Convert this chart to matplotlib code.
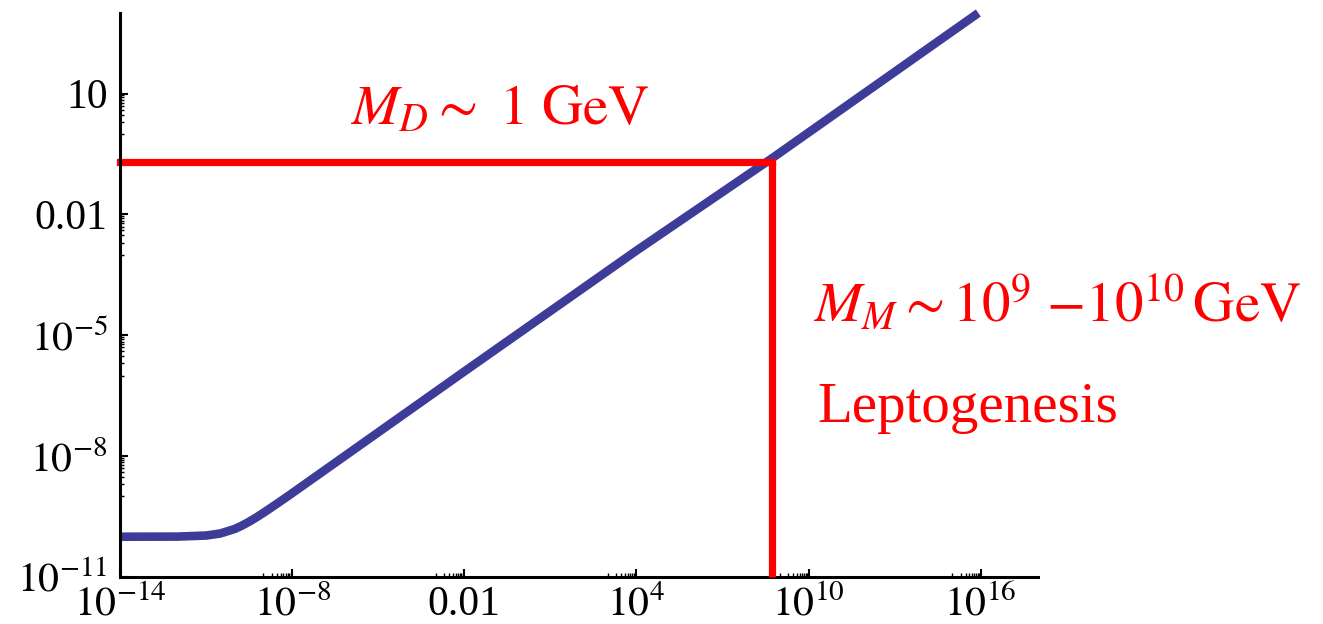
import numpy as np
import matplotlib
matplotlib.use("Agg")
import matplotlib.pyplot as plt
from matplotlib.ticker import FixedLocator, FixedFormatter, NullFormatter

plt.rcParams["font.family"] = ["Liberation Serif", "DejaVu Serif"]
plt.rcParams["mathtext.fontset"] = "stix"

# Curve samples (log10 x, log10 y): flat floor, a smooth knee, then slope 1/2
curve_logx = [-14.0, -12.0, -11.0, -10.5, -10.0, -9.75, -9.5, -9.25, -9.0,
              -8.75, -8.5, -8.25, -8.0, -2.0, 4.0, 8.74, 15.92]
curve_logy = [-10.0, -9.997, -9.971, -9.919, -9.807, -9.725, -9.628, -9.521, -9.407,
              -9.288, -9.167, -9.044, -8.92, -5.9, -2.9, -0.6, 3.0]

# Marker lines meeting on the curve
corner_x = 5.5e8
corner_y = 0.2

x_major = [1e-14, 1e-8, 1e-2, 1e4, 1e10, 1e16]
x_labels = [r"$10^{-14}$", r"$10^{-8}$", "0.01", r"$10^{4}$", r"$10^{10}$", r"$10^{16}$"]
y_major = [1e-11, 1e-8, 1e-5, 1e-2, 1e1]
y_labels = [r"$10^{-11}$", r"$10^{-8}$", r"$10^{-5}$", "0.01", "10"]

label_md = r"$M_D \sim\ 1\ \mathrm{GeV}$"
label_mm = r"$M_M \sim 10^9\ {-}10^{10}\,\mathrm{GeV}$"
label_lepto = "Leptogenesis"

W, H = 1323, 624
fig = plt.figure(figsize=(W / 100, H / 100), dpi=100)
ax = fig.add_axes([120 / W, 1 - 577 / H, 918 / W, 564 / H])
ax.set_xscale("log")
ax.set_yscale("log")
ax.set_xlim(1e-14, 1e18)
ax.set_ylim(1e-11, 1e3)

ax.plot(10 ** np.array(curve_logx), 10 ** np.array(curve_logy),
        color="#3d3d99", lw=6.2, solid_capstyle="butt", solid_joinstyle="round",
        zorder=3, clip_on=False)

ax.plot([1e-14, corner_x], [corner_y, corner_y], color="#ff0000", lw=5.2,
        solid_capstyle="projecting", zorder=4, clip_on=False)
ax.plot([corner_x, corner_x], [corner_y, 1e-11], color="#ff0000", lw=5.2,
        solid_capstyle="butt", zorder=6, clip_on=False)

for side in ("top", "right"):
    ax.spines[side].set_visible(False)
for side in ("left", "bottom"):
    ax.spines[side].set_linewidth(2.2)
    ax.spines[side].set_zorder(5)

def minors(majors, lo):
    out = []
    for m in majors:
        for k in range(1, 10):
            v = k * m / 10
            if v > lo:
                out.append(v)
    return out

ax.xaxis.set_major_locator(FixedLocator(x_major))
ax.xaxis.set_major_formatter(FixedFormatter(x_labels))
ax.xaxis.set_minor_locator(FixedLocator(minors(x_major, 1e-14)))
ax.xaxis.set_minor_formatter(NullFormatter())
ax.yaxis.set_major_locator(FixedLocator(y_major))
ax.yaxis.set_major_formatter(FixedFormatter(y_labels))
ax.yaxis.set_minor_locator(FixedLocator(minors(y_major, 1e-11)))
ax.yaxis.set_minor_formatter(NullFormatter())

ax.tick_params(which="major", direction="in", length=6, width=1.5, labelsize=30,
               colors="black")
ax.tick_params(which="minor", direction="in", length=3, width=1.0)
ax.tick_params(axis="x", which="major", pad=6)
ax.tick_params(axis="y", which="major", pad=9)

red = "#ff0000"
fig.text(350 / W, 1 - 124 / H, label_md, color=red, fontsize=41, va="baseline", ha="left")
fig.text(813 / W, 1 - 323 / H, label_mm, color=red, fontsize=41, va="baseline", ha="left")
fig.text(817 / W, 1 - 422 / H, label_lepto, color=red, fontsize=41, va="baseline", ha="left")

fig.savefig("out.png", dpi=100, facecolor="white")
